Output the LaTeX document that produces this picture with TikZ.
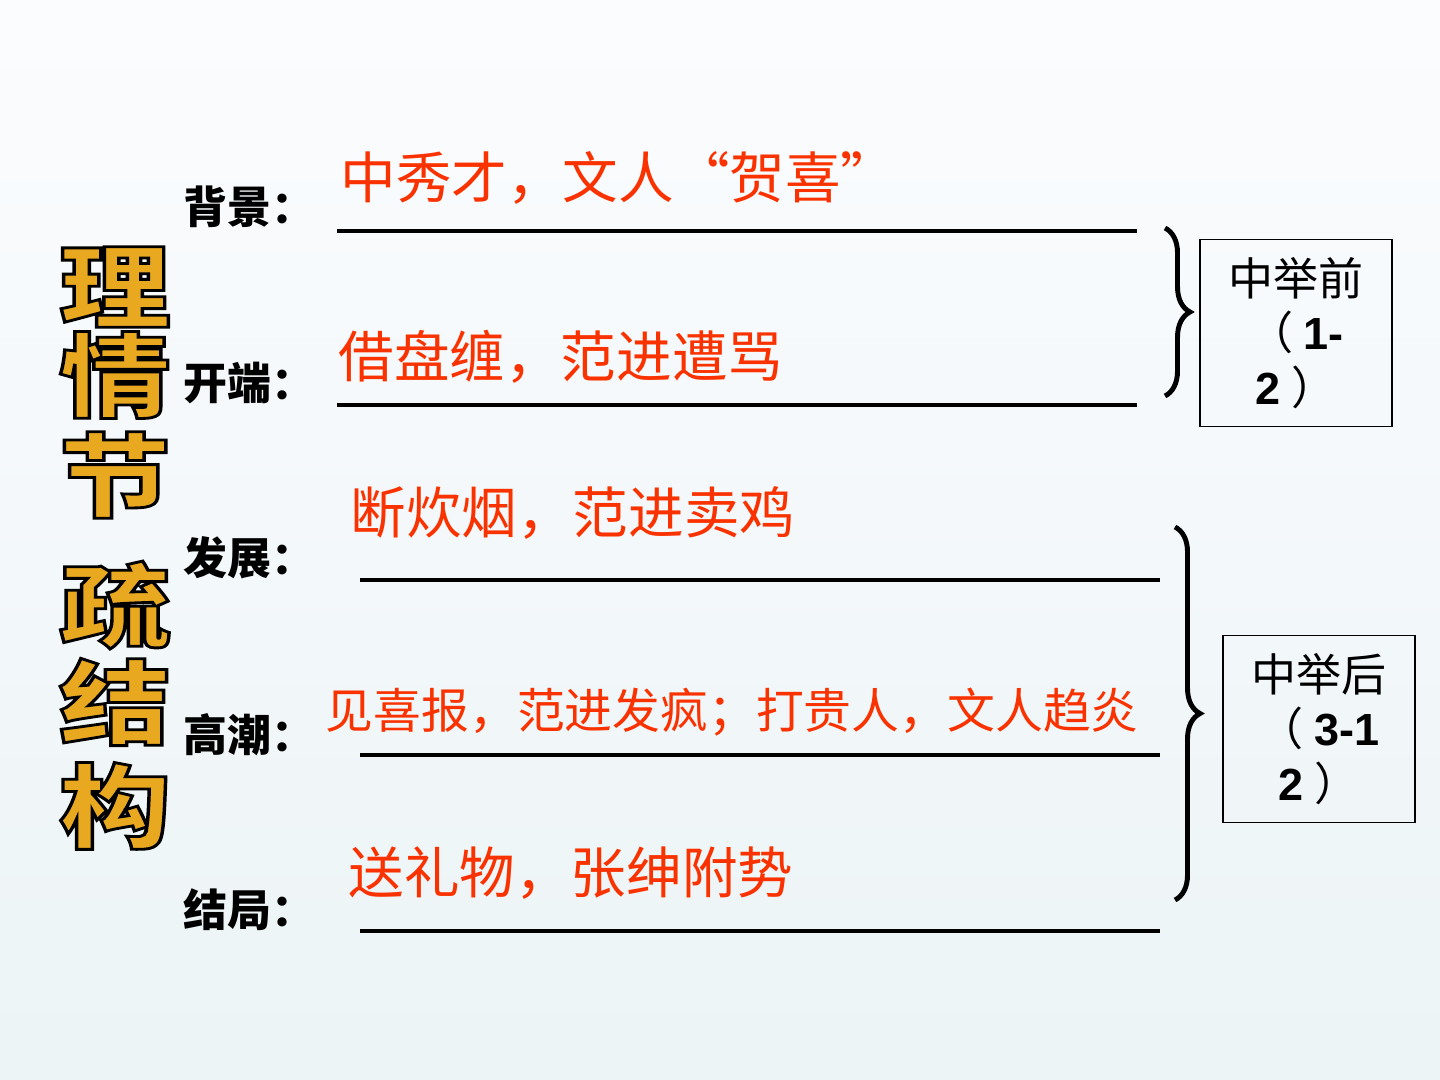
\documentclass[tikz,border=0pt]{standalone}
\usepackage{fontspec}
\setmainfont{Liberation Serif}
\newfontfamily\cjk{Noto Sans CJK SC}
\newfontfamily\numfont{Liberation Sans}
\usetikzlibrary{decorations.pathreplacing}
\definecolor{myred}{RGB}{250,50,0}
\definecolor{mygold}{RGB}{232,168,32}
\definecolor{bgtop}{RGB}{251,252,254}
\definecolor{bgbot}{RGB}{236,244,246}
\newcommand{\outl}[1]{\special{pdf:literal direct 0 0 0 RG 2 Tr 0.8 w}#1\special{pdf:literal direct 0 Tr}}

\begin{document}
\begin{tikzpicture}[x=0.01cm,y=-0.01cm,
  lbl/.style={anchor=west,inner sep=0pt,font=\cjk\bfseries\fontsize{12.5}{14}\selectfont},
  ans/.style={anchor=west,inner sep=0pt,text=myred,font=\cjk\fontsize{15.8}{17}\selectfont},
  blank/.style={line width=1.2pt},
  brc/.style={decorate,decoration={brace,amplitude=0.25cm},line width=1.4pt},
  stage/.style={draw,line width=0.4pt,align=center,inner sep=0pt,minimum width=1.92cm,minimum height=1.87cm,font=\cjk\fontsize{12.8}{15.6}\selectfont},
  ttl/.style={inner sep=0pt,xscale=1.22,text=mygold,font=\cjk\bfseries\fontsize{26}{26}\selectfont}]

\fill[top color=bgtop,bottom color=bgbot] (0,0) rectangle (1440,1080);
\useasboundingbox (0,0) rectangle (1440,1080);

% title
\foreach \ch/\yy [count=\i] in {理/287,情/375,节/475,疏/605,结/702,构/806}
  \node[ttl] (t\i) at (115,\yy) {\outl{\ch}};

% rows
\node[lbl] (bj) at (183,207) {背景：};
\node[ans] (bja) at (340,178) {中秀才，文人“贺喜”};
\draw[blank] (337,231) -- (1137,231);

\node[lbl] (kd) at (183,383) {开端：};
\node[ans] (kda) at (338,357) {借盘缠，范进遭骂};
\draw[blank] (337,405) -- (1137,405);

\node[lbl] (fz) at (183,558) {发展：};
\node[ans] (fza) at (350,513) {断炊烟，范进卖鸡};
\draw[blank] (360,580) -- (1160,580);

\node[lbl] (gc) at (183,735) {高潮：};
\node[ans,font=\cjk\fontsize{13.6}{15}\selectfont] (gca) at (325,712) {见喜报，范进发疯；打贵人，文人趋炎};
\draw[blank] (360,755) -- (1160,755);

\node[lbl] (jj) at (183,910) {结局：};
\node[ans] (jja) at (348,873) {送礼物，张绅附势};
\draw[blank] (360,931) -- (1160,931);

% braces and boxes
\draw[brc] (1165,228) -- (1165,396);
\draw[brc] (1175,527) -- (1175,900);
\node[stage] (qian) at (1296,333) {中举前\\（ {\numfont\bfseries 1-}\\{\numfont\bfseries 2} ）};
\node[stage] (hou) at (1319,729) {中举后\\（ {\numfont\bfseries 3-1}\\{\numfont\bfseries 2} ）};

\end{tikzpicture}
\end{document}
